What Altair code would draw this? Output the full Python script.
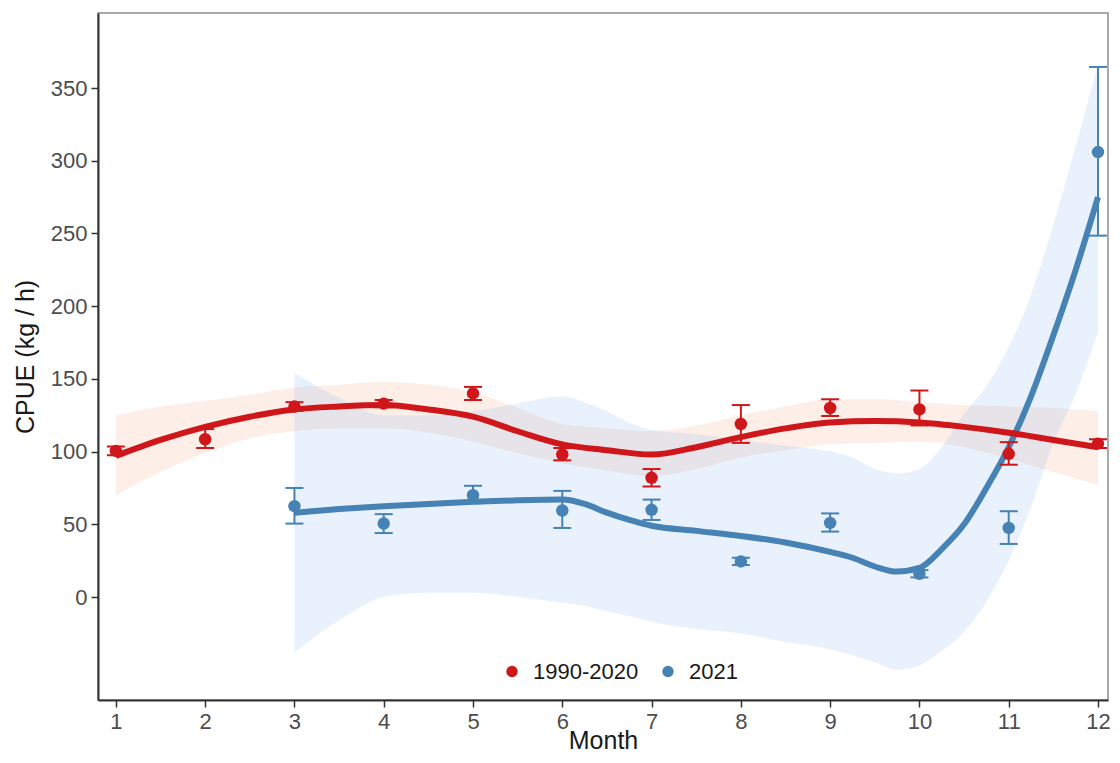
import pandas as pd
import altair as alt

RED = "#cf161b"
BLUE = "#4682b4"
PERIODS = ["1990-2020", "2021"]

# monthly means and error bars
RED_MONTH = list(range(1, 13))
RED_MEAN = [100.5, 108.5, 131, 133, 140, 98, 82, 119, 130, 129, 98.5, 105.5]
RED_LO = [97.5, 102.5, 128, 130.5, 135.5, 94, 76, 106, 124.5, 118, 91, 102.5]
RED_HI = [103.5, 115.5, 134, 135.5, 144.5, 102.5, 88, 132, 136, 142, 106.5, 108.5]

BLUE_MONTH = list(range(3, 13))
BLUE_MEAN = [62.5, 50.5, 70, 59.5, 60, 24.5, 51, 16, 47.5, 306]
BLUE_LO = [50.5, 44, 64.5, 47.5, 53, 22, 45, 13.5, 36.5, 248.5]
BLUE_HI = [75, 57, 76.5, 73, 67, 27, 57.5, 18.5, 59, 364.5]

# smoothed curves + confidence band
RED_FIT_MONTH = [1, 1.5, 2, 2.5, 3, 3.5, 4, 4.5, 5, 5.5, 6, 6.5, 7, 7.5, 8,
                 8.5, 9, 9.5, 10, 10.5, 11, 11.5, 12]
RED_FIT = [97, 108, 117, 124, 129, 131, 132, 129, 124, 114, 105, 101, 98, 103,
           110, 116, 120, 121, 120, 117, 113, 108, 103]
RED_FIT_LO = [70, 86, 99, 109, 114, 116, 116, 113, 107, 99, 92, 87, 83, 88, 96,
              101, 105, 106, 107, 103, 95, 86, 77]
RED_FIT_HI = [125, 131, 135, 139, 144, 146, 148, 146, 141, 130, 119, 116, 114,
              118, 125, 131, 136, 136, 134, 132, 131, 130, 128]

BLUE_FIT_MONTH = [3, 3.5, 4, 4.5, 5, 5.5, 6, 6.25, 6.5, 6.75, 7, 7.5, 8, 8.5,
                  9, 9.25, 9.5, 9.75, 10, 10.25, 10.5, 10.75, 11, 11.25, 11.5,
                  11.75, 12]
BLUE_FIT = [58, 60.5, 62.5, 64, 65.5, 66.5, 67, 64, 58, 53, 49, 45.5, 42, 37.5,
            31, 27, 21, 17.5, 20, 33, 50, 75, 103, 138, 180, 225, 275]
BLUE_FIT_LO = [-38, -16, 0, 3, 3, 0, -4, -6, -10, -13, -17, -22, -25, -31, -36,
               -40, -45, -50, -47, -37, -24, -3, 25, 62, 106, 140, 182]
BLUE_FIT_HI = [154, 137, 125, 125, 128, 133, 138, 134, 128, 120, 115, 112, 108,
               104, 100, 96, 88, 85, 88, 103, 126, 145, 172, 208, 256, 310, 366]

MONTH_TICKS = list(range(1, 13))
CPUE_TICKS = [0, 50, 100, 150, 200, 250, 300, 350]


red_pts = pd.DataFrame({"period": PERIODS[0], "month": RED_MONTH,
                        "mean": RED_MEAN, "lo": RED_LO, "hi": RED_HI})
blue_pts = pd.DataFrame({"period": PERIODS[1], "month": BLUE_MONTH,
                         "mean": BLUE_MEAN, "lo": BLUE_LO, "hi": BLUE_HI})
red_fit = pd.DataFrame({"month": RED_FIT_MONTH, "fit": RED_FIT,
                        "lo": RED_FIT_LO, "hi": RED_FIT_HI})
blue_fit = pd.DataFrame({"month": BLUE_FIT_MONTH, "fit": BLUE_FIT,
                         "lo": BLUE_FIT_LO, "hi": BLUE_FIT_HI})

x_scale = alt.Scale(domain=[0.8, 12.112], nice=False, zero=False)
y_scale = alt.Scale(domain=[-70.8, 401.6], nice=False, zero=False)

common_axis = dict(
    grid=False, labelFontSize=22, labelColor="#4d4d4d", labelFont="Liberation Sans",
    tickColor="#333333", tickSize=7, tickWidth=1.5,
    domainColor="#333333", domainWidth=2,
    titleFontSize=25, titleFontWeight="normal", titleColor="#1a1a1a",
    titleFont="Liberation Sans",
)
# x title pinned by baseline so it stays inside the page
x_axis = alt.Axis(values=MONTH_TICKS, format="d", title="Month",
                  labelPadding=4, titleBaseline="alphabetic", titleY=48,
                  **common_axis)
y_axis = alt.Axis(values=CPUE_TICKS, format="d", title="CPUE (kg / h)",
                  labelPadding=4, titlePadding=12, **common_axis)


def X():
    return alt.X("month:Q", scale=x_scale, axis=x_axis)


def Y(field):
    return alt.Y(f"{field}:Q", scale=y_scale, axis=y_axis)


def ribbon(df, fill):
    return alt.Chart(df).mark_area(interpolate="monotone", fill=fill, opacity=0.18).encode(
        x=X(), y=Y("lo"), y2="hi")


def smooth(df, color, width):
    return alt.Chart(df).mark_line(interpolate="monotone", color=color,
                                   strokeWidth=width).encode(x=X(), y=Y("fit"))


def errbars(df, color):
    bar = alt.Chart(df).mark_rule(color=color, strokeWidth=2).encode(
        x=X(), y=Y("lo"), y2="hi")
    cap_lo = alt.Chart(df).mark_tick(orient="horizontal", size=18, thickness=2,
                                     color=color, opacity=1).encode(x=X(), y=Y("lo"))
    cap_hi = alt.Chart(df).mark_tick(orient="horizontal", size=18, thickness=2,
                                     color=color, opacity=1).encode(x=X(), y=Y("hi"))
    return bar + cap_lo + cap_hi


points = alt.Chart(pd.concat([red_pts, blue_pts])).mark_circle(size=155, opacity=1).encode(
    x=X(),
    y=Y("mean"),
    color=alt.Color(
        "period:N",
        scale=alt.Scale(domain=PERIODS, range=[RED, BLUE]),
        legend=alt.Legend(
            orient="none", legendX=403, legendY=647.5, direction="horizontal",
            title=None, labelFontSize=22, labelColor="#1a1a1a",
            labelFont="Liberation Sans", symbolType="circle", symbolSize=130,
            symbolOpacity=1, symbolStrokeWidth=0, labelOffset=10,
            columnPadding=18, padding=0,
        ),
    ),
)

chart = (
    ribbon(red_fit, "#f4a582")
    + ribbon(blue_fit, "#7fb2f0")
    + smooth(blue_fit, BLUE, 6)
    + smooth(red_fit, RED, 6)
    + errbars(red_pts, RED)
    + errbars(blue_pts, BLUE)
    + points
).properties(
    width=1010, height=687,
    padding={"left": 90, "top": 5, "right": 4, "bottom": 55},
    autosize="none",
).configure(font="Liberation Sans", background="white").configure_view(
    stroke="#8f8f8f", strokeWidth=1.5)

chart.save("out.html", embed_options={"renderer": "svg", "actions": False})
